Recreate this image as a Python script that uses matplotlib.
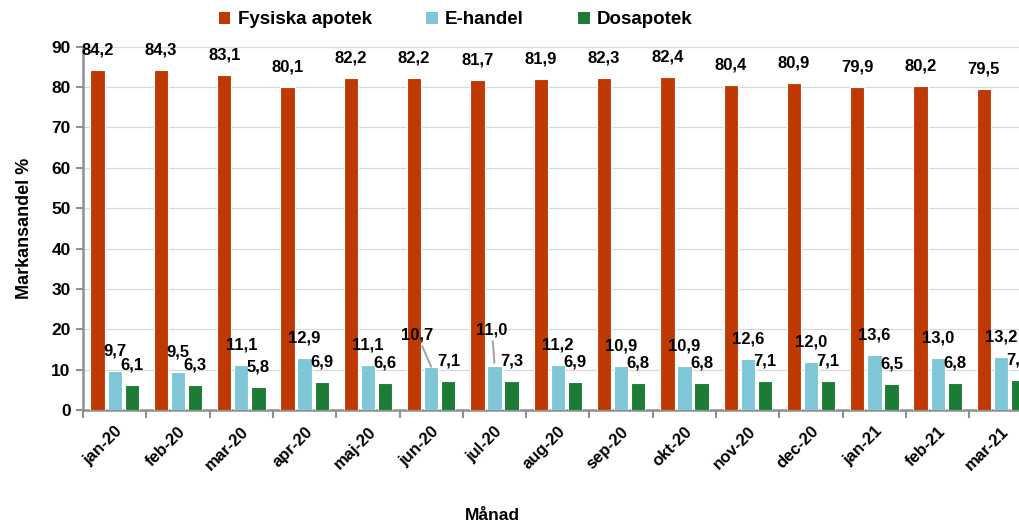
import matplotlib
matplotlib.use('Agg')
import matplotlib.pyplot as plt
from matplotlib.patches import Patch
import numpy as np

plt.rcParams['font.family'] = ['Liberation Sans', 'DejaVu Sans']
plt.rcParams['font.weight'] = 'bold'

months = ['jan-20', 'feb-20', 'mar-20', 'apr-20', 'maj-20', 'jun-20', 'jul-20',
          'aug-20', 'sep-20', 'okt-20', 'nov-20', 'dec-20', 'jan-21', 'feb-21', 'mar-21']
fysiska = [84.2, 84.3, 83.1, 80.1, 82.2, 82.2, 81.7, 81.9, 82.3, 82.4, 80.4, 80.9, 79.9, 80.2, 79.5]
ehandel = [9.7, 9.5, 11.1, 12.9, 11.1, 10.7, 11.0, 11.2, 10.9, 10.9, 12.6, 12.0, 13.6, 13.0, 13.2]
dosapotek = [6.1, 6.3, 5.8, 6.9, 6.6, 7.1, 7.3, 6.9, 6.8, 6.8, 7.1, 7.1, 6.5, 6.8, 7.4]

C_RED = '#BF3A02'
C_BLUE = '#7FC6D6'
C_GREEN = '#1C7B34'
AXIS_GREY = '#8F8F8F'

DPI = 100
PX = 72 / DPI  # pixels -> points

fig = plt.figure(figsize=(10.2, 5.24), dpi=DPI)
# plot area runs past the right edge of the figure
ax = fig.add_axes([0.0814, 0.2176, 0.931, 0.6933])

x = np.arange(len(months))
w = 0.226
off = 0.27
series = [(fysiska, -off, C_RED), (ehandel, 0.0, C_BLUE), (dosapotek, off, C_GREEN)]
for vals, dx, col in series:
    ax.bar(x + dx, vals, width=w, color=col, edgecolor='white', linewidth=0.8, zorder=3)

ax.set_xlim(-0.5, len(months) - 0.5)
ax.set_ylim(0, 90)
ax.set_yticks(range(0, 91, 10))
ax.yaxis.grid(True, color='#D9D9D9', linewidth=0.9, zorder=0)
ax.set_axisbelow(True)

for s in ['top', 'right']:
    ax.spines[s].set_visible(False)
for s in ['left', 'bottom']:
    ax.spines[s].set_color(AXIS_GREY)
    ax.spines[s].set_linewidth(1.8)

ax.tick_params(axis='y', length=5, width=1.5, color=AXIS_GREY, labelsize=12.5, pad=4)
ax.set_xticks(x)
ax.set_xticklabels(months, rotation=45, ha='right', rotation_mode='anchor', fontsize=12)
ax.tick_params(axis='x', which='major', length=0, pad=10)
ax.set_xticks(np.arange(len(months) + 1) - 0.5, minor=True)
ax.tick_params(axis='x', which='minor', length=6, width=1.5, color=AXIS_GREY)


def fmt(v):
    return f'{v:.1f}'.replace('.', ',')


label_kw = dict(textcoords='offset points', ha='center', va='center',
                fontsize=12, fontweight='bold', color='black', zorder=5,
                annotation_clip=False)

for vals, dx, col in series:
    for i, v in enumerate(vals):
        ox, oy = 0, 20
        arrow = None
        if vals is ehandel and i == 5:
            ox, oy = -14, 32
            arrow = dict(arrowstyle='-', color='#A6A6A6', lw=1.5, shrinkA=1, shrinkB=0)
        elif vals is ehandel and i == 6:
            ox, oy = -2.5, 36
            arrow = dict(arrowstyle='-', color='#A6A6A6', lw=1.5, shrinkA=1, shrinkB=2)
        ax.annotate(fmt(v), xy=(i + dx, v), xytext=(ox * PX, oy * PX),
                    arrowprops=arrow, **label_kw)

ax.set_ylabel('Markansandel %', fontsize=13, fontweight='bold', labelpad=13)
fig.text(492 / 1020, 8 / 524, 'Månad', ha='center', va='center',
         fontsize=12.5, fontweight='bold')

handles = [Patch(facecolor=C_RED, label='Fysiska apotek'),
           Patch(facecolor=C_BLUE, label='E-handel'),
           Patch(facecolor=C_GREEN, label='Dosapotek')]
fig.legend(handles=handles, loc='center', bbox_to_anchor=(456 / 1020, 1 - 20 / 524),
           ncol=3, frameon=False, prop={'size': 13.5, 'weight': 'bold'},
           handlelength=0.6, handleheight=0.6, handletextpad=0.4, columnspacing=2.9)

fig.savefig('out.png', dpi=DPI)
